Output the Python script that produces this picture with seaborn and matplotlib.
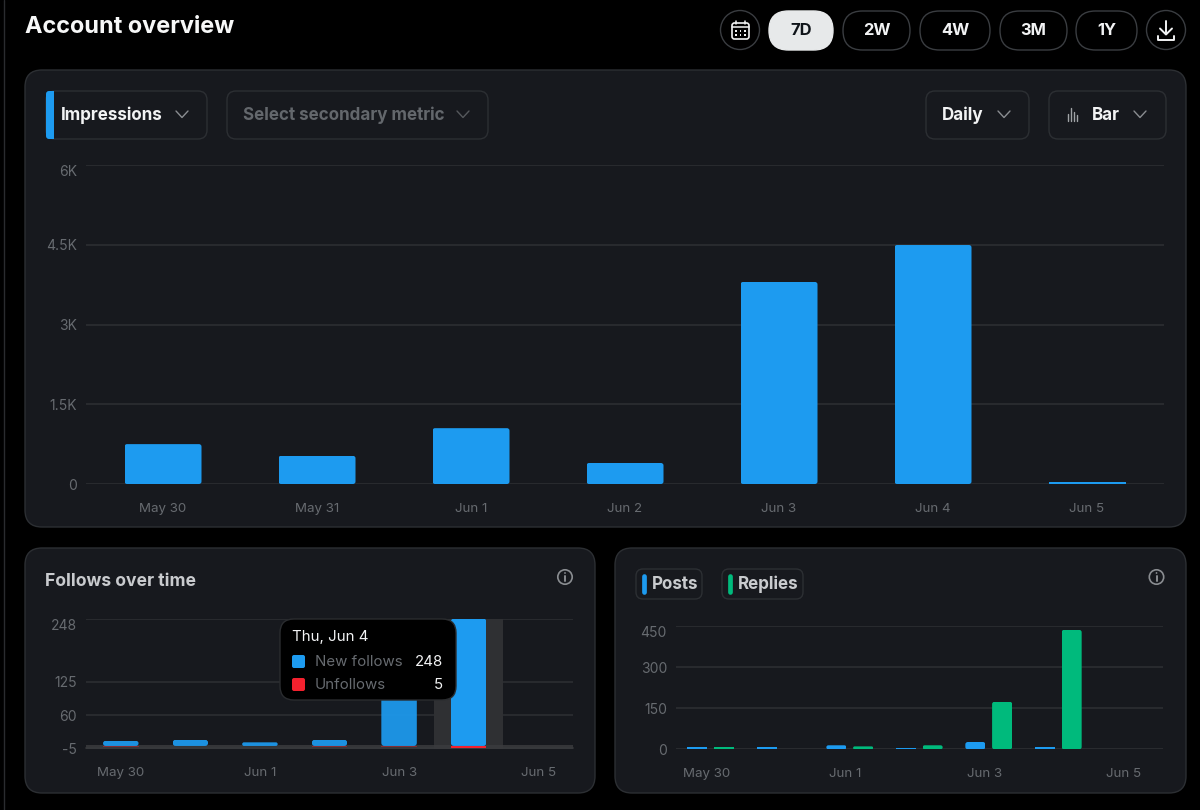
import matplotlib
matplotlib.use("Agg")
import matplotlib.pyplot as plt
import pandas as pd
import seaborn as sns
from matplotlib.patches import Circle, FancyBboxPatch, Rectangle
from matplotlib.transforms import IdentityTransform, ScaledTranslation

# Daily account metrics
days = ["May 30", "May 31", "Jun 1", "Jun 2", "Jun 3", "Jun 4", "Jun 5"]
impressions = [750, 530, 1050, 395, 3800, 4495, 35]
new_follows = [10, 12, 7, 12, 190, 248, 0]
unfollows = [2, 0, 0, 2, 2, 5, 0]
posts = [8, 10, 15, 4, 27, 10, 0]
replies = [8, 0, 11, 15, 174, 436, 0]

impression_ticks = [0, 1500, 3000, 4500, 6000]
impression_tick_labels = ["0", "1.5K", "3K", "4.5K", "6K"]
follow_ticks = [-5, 60, 125, 248]
activity_ticks = [0, 150, 300, 450]
range_buttons = ["7D", "2W", "4W", "3M", "1Y"]

BLUE = "#1D9BF0"
GREEN = "#00BA7C"
RED = "#F4212E"
PANEL = "#17191E"
EDGE = "#2C2F33"
GRID = "#2A2C30"
MUTED = "#676B70"
SOFT = "#C9CBCE"
WHITE = "#F2F3F4"
W, H = 1200, 810

sns.set_theme(style="dark", rc={
    "figure.facecolor": "black",
    "axes.facecolor": "none",
    "axes.edgecolor": "none",
    "grid.color": GRID,
    "grid.linewidth": 1.3,
    "xtick.color": MUTED,
    "ytick.color": MUTED,
})
plt.rcParams["font.family"] = ["Inter", "DejaVu Sans"]

fig = plt.figure(figsize=(W / 100, H / 100), dpi=100, facecolor="black")


def px_axes(left, top, right, bottom, z=1):
    return fig.add_axes([left / W, 1 - bottom / H, (right - left) / W, (bottom - top) / H], zorder=z)


def overlay(z):
    ax = fig.add_axes([0, 0, 1, 1], zorder=z)
    ax.set_xlim(0, W)
    ax.set_ylim(H, 0)
    ax.axis("off")
    ax.patch.set_alpha(0)
    return ax


back = overlay(0)
front = overlay(5)


def rbox(ax, x0, y0, x1, y1, r, fc="none", ec=EDGE, lw=1.0, z=2):
    ax.add_patch(FancyBboxPatch((x0 + r, y0 + r), x1 - x0 - 2 * r, y1 - y0 - 2 * r,
                                boxstyle=f"round,pad={r},rounding_size={r}",
                                fc=fc, ec=ec, lw=lw, zorder=z))


def label(ax, x, y, s, px, color=WHITE, weight="normal", ha="left"):
    ax.text(x, y + 1, s, fontsize=px * 0.72, color=color, fontweight=weight, ha=ha, va="center", zorder=6)


def chevron(ax, cx, cy, color="#8A8D91"):
    ax.plot([cx - 6, cx, cx + 6], [cy - 3, cy + 3.5, cy - 3], color=color, lw=1.0, zorder=6)


def round_bars(ax, radius=2.5):
    # Clip every bar to a rounded outline computed from its own data extent
    for container in ax.containers:
        for bar in container:
            (x0, y0), (x1, y1) = ax.transData.transform(
                [(bar.get_x(), bar.get_y()), (bar.get_x() + bar.get_width(), bar.get_y() + bar.get_height())])
            x0, x1 = min(x0, x1), max(x0, x1)
            y0, y1 = min(y0, y1), max(y0, y1)
            # Slivers too short to show a corner stay square
            if y1 - y0 < 3:
                continue
            r = min(radius, (y1 - y0) / 2)
            outline = FancyBboxPatch((x0 + r, y0 + r), x1 - x0 - 2 * r, max(y1 - y0 - 2 * r, 0),
                                     boxstyle=f"round,pad={r},rounding_size={r}",
                                     transform=IdentityTransform())
            bar.set_clip_path(outline)


def style_axis(ax, yticks, ylabels, xticks, xlabels, xpad, ypad=6.5, size=10):
    ax.set_xlabel("")
    ax.set_ylabel("")
    ax.set_yticks(yticks, ylabels)
    ax.set_xticks(xticks, xlabels)
    ax.set_xlim(-0.5, 6.5)
    ax.tick_params(axis="x", length=0, pad=xpad, labelsize=size * 0.96, colors=MUTED)
    ax.tick_params(axis="y", length=0, pad=ypad, labelsize=size, colors=MUTED)
    ax.yaxis.grid(True)
    ax.xaxis.grid(False)
    ax.set_axisbelow(True)
    for side in ax.spines.values():
        side.set_visible(False)
    # The topmost value sits just beneath its rule
    top_label = ax.get_yticklabels()[-1]
    top_label.set_transform(top_label.get_transform() + ScaledTranslation(0, -6 / 100, fig.dpi_scale_trans))


# Page furniture
back.plot([4, 4], [0, H], color="#2A2C2F", lw=1.0)
label(back, 25, 26, "Account overview", 23.5, "#F7F8F8", "bold")

rbox(back, 25, 70, 1186, 527, 17, fc=PANEL)
rbox(back, 25, 548, 595, 793, 17, fc=PANEL)
rbox(back, 615, 548, 1186, 793, 17, fc=PANEL)

# Date range buttons
back.add_patch(Circle((740, 30), 19.5, fc="black", ec="#3A3D41", lw=1.0))
back.add_patch(Circle((1166, 30), 19.5, fc="black", ec="#3A3D41", lw=1.0))
button_spans = [(769, 833), (843, 910), (920, 990), (1000, 1067), (1076, 1137)]
for name, (x0, x1) in zip(range_buttons, button_spans):
    active = name == "7D"
    rbox(back, x0, 11, x1, 50, 19.5, fc="#E7E9EA" if active else "black", ec="#E7E9EA" if active else "#3A3D41")
    label(back, (x0 + x1) / 2, 29.5, name, 16.5, "#0F1419" if active else WHITE, "bold", "center")

# Calendar glyph
rbox(back, 732, 23, 749, 39, 2.5, ec=WHITE, lw=1.2, z=6)
back.plot([732, 749], [27, 27], color=WHITE, lw=1.1, zorder=6)
for tx in (736, 745):
    back.plot([tx, tx], [21, 24], color=WHITE, lw=1.1, zorder=6)
for dx in (736, 740.5, 745):
    for dy in (31, 35):
        back.add_patch(Rectangle((dx - 0.8, dy - 0.8), 1.6, 1.6, fc=WHITE, ec="none", zorder=6))

# Download glyph
back.plot([1166, 1166], [21, 34], color=WHITE, lw=1.4, zorder=6)
back.plot([1160, 1166, 1172], [28.5, 34.5, 28.5], color=WHITE, lw=1.4, zorder=6)
back.plot([1158, 1158, 1174, 1174], [36, 40, 40, 36], color=WHITE, lw=1.4, zorder=6)

# Metric selectors
rbox(back, 46, 91, 207, 139, 9)
rbox(back, 227, 91, 488, 139, 9)
rbox(back, 926, 91, 1029, 139, 9)
rbox(back, 1049, 91, 1166, 139, 9)
back.add_patch(FancyBboxPatch((49, 94), 1.5, 42, boxstyle="round,pad=3,rounding_size=3", fc=BLUE, ec="none", zorder=3))
back.add_patch(Rectangle((50, 91), 3.5, 48, fc=BLUE, ec="none", zorder=3))
label(back, 61, 114, "Impressions", 17, WHITE, "bold")
chevron(back, 182, 114)
label(back, 243, 114, "Select secondary metric", 17, "#63676C", "bold")
chevron(back, 463, 114, "#55585C")
label(back, 942, 114, "Daily", 17, WHITE, "bold")
chevron(back, 1004, 114)
label(back, 1092, 114, "Bar", 17, WHITE, "bold")
chevron(back, 1140, 114)
for bx, top in zip((1068, 1071, 1074, 1077), (114, 108, 112, 115)):
    back.plot([bx, bx], [top, 121], color="#A0A3A6", lw=1.0, zorder=6)

# Impressions per day
ax_main = px_axes(86, 165, 1164, 484)
sns.barplot(data=pd.DataFrame({"day": days, "value": impressions}), x="day", y="value",
            color=BLUE, saturation=1, width=0.5, ax=ax_main, order=days, linewidth=0)
ax_main.set_ylim(0, 6000)
style_axis(ax_main, impression_ticks, impression_tick_labels, range(7), days, 13.5)
round_bars(ax_main)

# Follows over time
label(back, 45, 580, "Follows over time", 17.5, SOFT, "bold")
ax_follow = px_axes(86, 618.5, 573, 748.5)
sns.barplot(data=pd.DataFrame({"day": days, "value": new_follows}), x="day", y="value",
            color=BLUE, saturation=1, width=0.51, ax=ax_follow, order=days, zorder=3, linewidth=0)
sns.barplot(data=pd.DataFrame({"day": days, "value": [-v for v in unfollows]}), x="day", y="value",
            color=RED, saturation=1, width=0.51, ax=ax_follow, order=days, zorder=3, linewidth=0)
ax_follow.set_ylim(-5, 248)
style_axis(ax_follow, follow_ticks, [str(t) for t in follow_ticks], [0, 2, 4, 6],
           [days[i] for i in (0, 2, 4, 6)], 13.5)
round_bars(ax_follow, 3)
# Only the hovered day keeps full strength
focus = days.index("Jun 4")
for i, bar in enumerate(ax_follow.containers[1]):
    bar.set_alpha(1 if i == focus else 0.42)
for i, bar in enumerate(ax_follow.containers[0]):
    bar.set_alpha(1 if i == focus else 0.93)
ax_follow.axvspan(focus - 0.5, focus + 0.5, color="#2F3033", lw=0, zorder=1)
ax_follow.axhline(0, color="#3A3B3E", lw=1.2, zorder=2)
ax_follow.axhline(-5, color="#3A3B3E", lw=1.2, zorder=2, clip_on=False)
ax_follow.set_xlim(-0.5, 6.5)

# Posts and replies
activity = pd.DataFrame({
    "day": days * 2,
    "value": posts + replies,
    "kind": ["Posts"] * 7 + ["Replies"] * 7,
})
ax_act = px_axes(676, 626, 1162.5, 749.4)
sns.barplot(data=activity, x="day", y="value", hue="kind", order=days,
            palette={"Posts": BLUE, "Replies": GREEN}, saturation=1, width=0.77, gap=0.25,
            legend=False, ax=ax_act, linewidth=0)
ax_act.set_ylim(0, 450)
# Date labels sit a little left of their bar groups
style_axis(ax_act, activity_ticks, [str(t) for t in activity_ticks], [i - 0.065 for i in (0, 2, 4, 6)],
           [days[i] for i in (0, 2, 4, 6)], 13.5)
ax_act.axhline(0, color=GRID, lw=1.3, zorder=0.6)
round_bars(ax_act)

# Series chips
for (x0, x1, name, col) in ((636, 702, "Posts", BLUE), (722, 803, "Replies", GREEN)):
    rbox(back, x0, 569, x1, 599, 7)
    back.plot([x0 + 8, x0 + 8], [576, 592], color=col, lw=3.4, solid_capstyle="round", zorder=6)
    label(back, x0 + 16, 583.5, name, 17, SOFT, "bold")

# Info glyphs
for cx in (565, 1156.5):
    back.add_patch(Circle((cx, 577), 7.2, fc="none", ec="#8A8D91", lw=1.2, zorder=6))
    back.plot([cx, cx], [575.5, 581], color="#8A8D91", lw=1.4, zorder=6)
    back.add_patch(Circle((cx, 573), 0.9, fc="#8A8D91", ec="none", zorder=6))

# Hover tooltip for the focused day
rbox(front, 280, 619, 456, 700, 14, fc="black", ec="#2A2C2F", z=4)
label(front, 292, 635.5, "Thu, Jun 4", 15, WHITE)
for y, name, col, value in ((661, "New follows", BLUE, new_follows[focus]),
                            (684, "Unfollows", RED, unfollows[focus])):
    rbox(front, 292, y - 6, 305, y + 7, 2, fc=col, ec="none", z=5)
    label(front, 315, y, name, 15, MUTED)
    label(front, 443, y, str(value), 15, WHITE, ha="right")

fig.savefig("out.png", dpi=100, facecolor="black")
